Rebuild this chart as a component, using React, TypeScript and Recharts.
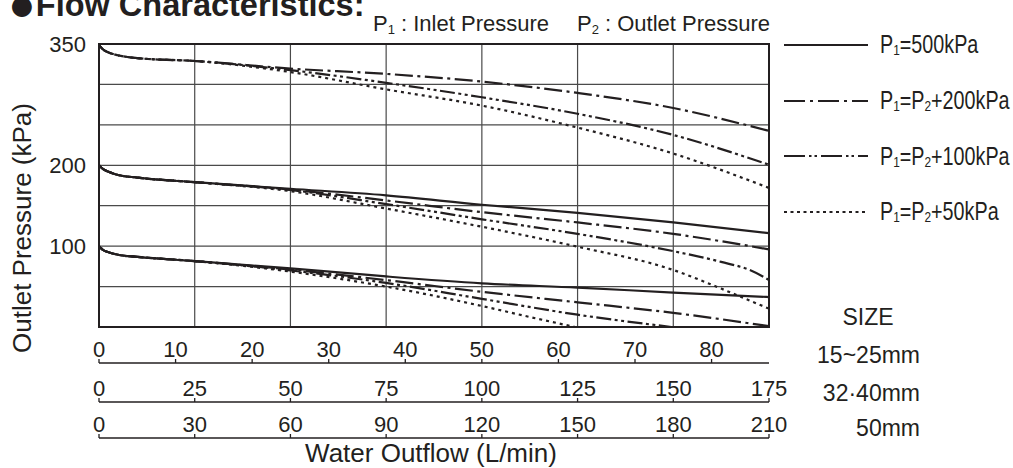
import React from "react";
import { LineChart, Line, XAxis, YAxis, CartesianGrid, ReferenceArea, Legend } from "recharts";

// flow on the 32·40mm scale (L/min), pressure in kPa
const FLOW = [0, 0.5, 1, 2.5, 5, 10, 25, 50, 75, 100, 125, 150, 175];
const FLOW_TAIL = [0, 0.5, 1, 2.5, 5, 10, 25, 50, 75, 100, 125, 150, 162.5, 170, 175];
const FLOW_LOW_DDD = [0, 0.5, 1, 2.5, 5, 10, 25, 50, 75, 100, 125, 149.5];
const FLOW_LOW_DOT = [0, 0.5, 1, 2.5, 5, 10, 25, 50, 75, 100, 112.5, 124.3];

const TOP_DASH_DOT = [349, 346, 343.5, 339.5, 336, 332.5, 329, 319.6, 313, 303.5, 289.5, 270.8, 242.5];
const TOP_DASH_DOT2 = [349, 346, 343.5, 339.5, 336, 332.5, 329, 317.7, 302, 284.1, 263.7, 237.5, 200.7];
const TOP_DOTTED = [349, 346, 343.5, 339.5, 336, 332.5, 329, 315.3, 293.9, 273.8, 246.6, 214.5, 172];

const MID_SOLID = [200, 197.5, 195.5, 192, 188, 184.8, 179.1, 171, 162.8, 151.2, 141.2, 129.3, 116.1];
const MID_DASH_DOT = [200, 197.5, 195.5, 192, 188, 184.8, 179.1, 170, 156.5, 142, 129.3, 115.2, 96];
const MID_DASH_DOT2 = [200, 197.5, 195.5, 192, 188, 184.8, 179.1, 169.5, 152, 133.2, 115.2, 93.8, 80.5, 70.4, 58.1];
const MID_DOTTED = [200, 197.5, 195.5, 192, 188, 184.8, 179.1, 168, 146.5, 124, 99.3, 70.5, 47.5, 32.6, 22.7];

const LOW_SOLID = [100, 97.5, 95.5, 92.5, 89.3, 86.8, 81.5, 72.5, 62.5, 54, 48.7, 42.6, 37];
const LOW_DASH_DOT = [100, 97.5, 95.5, 92.5, 89.3, 86.8, 81.5, 71, 58, 43.5, 30.5, 17.5, 1];
const LOW_DASH_DOT2 = [100, 97.5, 95.5, 92.5, 89.3, 86.8, 81.5, 70, 54.5, 34.8, 15.2, 0];
const LOW_DOTTED = [100, 97.5, 95.5, 92.5, 89.3, 86.8, 81.5, 68.5, 50, 26, 12.4, 0];

// the three flow scales (same full width on the chart)
const RANGE_15_25 = [0, 87.5];
const RANGE_32_40 = [0, 175];
const RANGE_50 = [0, 210];

const TICKS_15_25 = [0, 10, 20, 30, 40, 50, 60, 70, 80];
const TICKS_32_40 = [0, 25, 50, 75, 100, 125, 150, 175];
const TICKS_50 = [0, 30, 60, 90, 120, 150, 180, 210];
const Y_TICKS = [0, 50, 100, 150, 200, 250, 300, 350];
const Y_LABELED = [100, 200, 350];

const LEGEND_LABELS = ["P_1=500kPa", "P_1=P_2+200kPa", "P_1=P_2+100kPa", "P_1=P_2+50kPa"];
const SIZE_LABELS = ["15~25mm", "32·40mm", "50mm"];

const INK = "#231f20";
const FONT = "'Liberation Sans', Arial, Helvetica, sans-serif";

type Style = "solid" | "dashDot" | "dashDot2" | "dotted";
const DASH: Record<Style, string | undefined> = {
  solid: undefined,
  dashDot: "18 4.5 3 4.5",
  dashDot2: "15 3.5 3 3.5 3 3.5",
  dotted: "3 4",
};
const LEGEND_DASH: Record<Style, string | undefined> = {
  solid: undefined,
  dashDot: "21 5 3 5",
  dashDot2: "21 4 2.5 3 2.5 4",
  dotted: "3 3.5",
};
const LEGEND_STYLES: Style[] = ["solid", "dashDot", "dashDot2", "dotted"];

const SERIES: { id: string; flow: number[]; kpa: number[]; style: Style }[] = [
  { id: "top-dd", flow: FLOW, kpa: TOP_DASH_DOT, style: "dashDot" },
  { id: "top-ddd", flow: FLOW, kpa: TOP_DASH_DOT2, style: "dashDot2" },
  { id: "top-dot", flow: FLOW, kpa: TOP_DOTTED, style: "dotted" },
  { id: "mid-solid", flow: FLOW, kpa: MID_SOLID, style: "solid" },
  { id: "mid-dd", flow: FLOW, kpa: MID_DASH_DOT, style: "dashDot" },
  { id: "mid-ddd", flow: FLOW_TAIL, kpa: MID_DASH_DOT2, style: "dashDot2" },
  { id: "mid-dot", flow: FLOW_TAIL, kpa: MID_DOTTED, style: "dotted" },
  { id: "low-solid", flow: FLOW, kpa: LOW_SOLID, style: "solid" },
  { id: "low-dd", flow: FLOW, kpa: LOW_DASH_DOT, style: "dashDot" },
  { id: "low-ddd", flow: FLOW_LOW_DDD, kpa: LOW_DASH_DOT2, style: "dashDot2" },
  { id: "low-dot", flow: FLOW_LOW_DOT, kpa: LOW_DOTTED, style: "dotted" },
];

const toRows = (flow: number[], kpa: number[]) => flow.map((f, i) => ({ flow: f, kpa: kpa[i] }));
// chart-level rows so the extra scale axes (no series of their own) still get a domain
const SCALE_ROWS = RANGE_32_40.map((flow, i) => ({ flow, q15: RANGE_15_25[i], q50: RANGE_50[i] }));

// "P_1" -> P with subscript 1
function withSubs(label: string, small: number) {
  return label.split(/_(\d)/).map((part, i) =>
    i % 2 === 1 ? (
      <tspan key={i} fontSize={small} dy={3}>{part}</tspan>
    ) : (
      <tspan key={i} dy={i === 0 ? 0 : -3}>{part}</tspan>
    )
  );
}

function htmlSubs(label: string) {
  return label.split(/_(\d)/).map((part, i) =>
    i % 2 === 1 ? (
      <span key={i} style={{ fontSize: "0.6em", verticalAlign: "-0.12em" }}>{part}</span>
    ) : (
      <span key={i}>{part}</span>
    )
  );
}

function StackTick(props: any) {
  const { x, y, payload } = props;
  return (
    <g>
      <line x1={x} x2={x} y1={y} y2={y - 4} stroke={INK} strokeWidth={1.3} />
      <text x={x} y={y - 6} textAnchor="middle" fontSize={22} fill={INK} fontFamily={FONT}>
        {payload.value}
      </text>
    </g>
  );
}

function XTitle() {
  return (
    <text x={431} y={462} textAnchor="middle" fontSize={26} fill={INK} fontFamily={FONT}>
      Water Outflow (L/min)
    </text>
  );
}

function YTitle() {
  return (
    <text
      x={22}
      y={228}
      transform="rotate(-90 22 228)"
      textAnchor="middle"
      dominantBaseline="central"
      fontSize={26}
      fill={INK}
      fontFamily={FONT}
    >
      Outlet Pressure (kPa)
    </text>
  );
}

function LegendBox() {
  return (
    <div style={{ fontFamily: FONT, fontSize: 25, color: INK }}>
      {LEGEND_LABELS.map((label, i) => (
        <div key={label} style={{ height: 55.7, display: "flex", alignItems: "center" }}>
          <svg width={86} height={10} style={{ marginLeft: 4, display: "block", flexShrink: 0 }}>
            <line x1={0} x2={84} y1={5} y2={5} stroke={INK} strokeWidth={2.2} strokeDasharray={LEGEND_DASH[LEGEND_STYLES[i]]} />
          </svg>
          <span
            style={{
              marginLeft: 10,
              lineHeight: 1,
              whiteSpace: "nowrap",
              display: "inline-block",
              transform: "scaleX(0.79)",
              transformOrigin: "left center",
            }}
          >
            {htmlSubs(label)}
          </span>
        </div>
      ))}
    </div>
  );
}

const axisLine = { stroke: INK, strokeWidth: 1.3 };

export default function App() {
  return (
    <div style={{ position: "absolute", left: 0, top: 0, width: 1013, height: 468, background: "#fff" }}>
      <LineChart width={1013} height={468} data={SCALE_ROWS} margin={{ top: 44, right: 244, bottom: 0, left: 39 }}>
        <CartesianGrid xAxisId="x3" stroke="#4a4a4a" strokeWidth={1.2} />
        <XAxis xAxisId="x1" type="number" dataKey="flow" domain={RANGE_32_40} height={36} tick={false} axisLine={false} tickLine={false} allowDataOverflow />
        <XAxis
          xAxisId="x2"
          type="number"
          dataKey="q15"
          domain={RANGE_15_25}
          ticks={TICKS_15_25}
          interval={0}
          height={39}
          tickSize={0}
          tickMargin={0}
          tickLine={false}
          axisLine={axisLine}
          tick={<StackTick />}
          allowDataOverflow
        />
        <XAxis
          xAxisId="x3"
          type="number"
          dataKey="flow"
          domain={RANGE_32_40}
          ticks={TICKS_32_40}
          interval={0}
          height={36}
          tickSize={0}
          tickMargin={0}
          tickLine={false}
          axisLine={axisLine}
          tick={<StackTick />}
          allowDataOverflow
        />
        <XAxis
          xAxisId="x4"
          type="number"
          dataKey="q50"
          domain={RANGE_50}
          ticks={TICKS_50}
          interval={0}
          height={30}
          tickSize={0}
          tickMargin={0}
          tickLine={false}
          axisLine={axisLine}
          tick={<StackTick />}
          label={<XTitle />}
          allowDataOverflow
        />
        <YAxis
          type="number"
          domain={[0, 350]}
          ticks={Y_TICKS}
          interval={0}
          width={60}
          tickSize={0}
          tickMargin={13}
          tickLine={false}
          axisLine={false}
          tick={{ fontSize: 22, fill: INK, fontFamily: FONT }}
          tickFormatter={(v: number) => (Y_LABELED.includes(v) ? String(v) : "")}
          label={<YTitle />}
          allowDataOverflow
        />
        <ReferenceArea xAxisId="x3" x1={0} x2={175} y1={0} y2={350} fill="none" stroke={INK} strokeWidth={2} />
        {SERIES.map((s) => (
          <Line
            key={s.id}
            xAxisId="x3"
            data={toRows(s.flow, s.kpa)}
            dataKey="kpa"
            type="monotone"
            stroke={INK}
            strokeWidth={2.2}
            strokeDasharray={DASH[s.style]}
            dot={false}
            activeDot={false}
            legendType="none"
            isAnimationActive={false}
          />
        ))}
        <Legend
          content={<LegendBox />}
          layout="vertical"
          align="center"
          verticalAlign="middle"
          wrapperStyle={{ left: 780, top: 17, width: 233 }}
        />
      </LineChart>
      <svg width={1013} height={468} style={{ position: "absolute", left: 0, top: 0, pointerEvents: "none" }}>
        <text x={8} y={16} fontSize={32.5} fontWeight="bold" fill={INK} fontFamily={FONT}>
          <tspan fontSize={46} dy={4}>●</tspan>
          <tspan dy={-4}>Flow Characteristics:</tspan>
        </text>
        <text x={373} y={31} fontSize={22} fill={INK} fontFamily={FONT}>
          {withSubs("P_1 : Inlet Pressure", 13)}
        </text>
        <text x={577} y={31} fontSize={22} fill={INK} fontFamily={FONT}>
          {withSubs("P_2 : Outlet Pressure", 13)}
        </text>
        <text x={868} y={325} textAnchor="middle" fontSize={23} fill={INK} fontFamily={FONT}>
          SIZE
        </text>
        {SIZE_LABELS.map((s, i) => (
          <text key={s} x={920} y={[363, 401, 436][i]} textAnchor="end" fontSize={23} fill={INK} fontFamily={FONT}>
            {s}
          </text>
        ))}
      </svg>
    </div>
  );
}
